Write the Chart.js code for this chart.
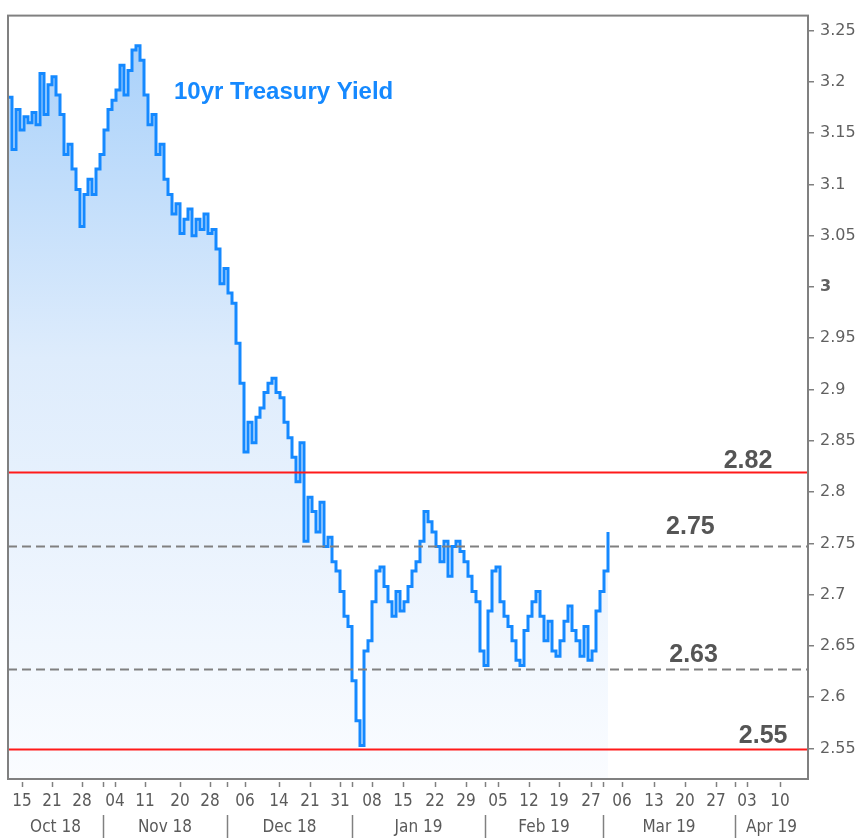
<!DOCTYPE html>
<html>
<head>
<meta charset="utf-8">
<script src="https://cdn.jsdelivr.net/npm/chart.js@4.4.1/dist/chart.umd.min.js"></script>
<style>
  html, body { margin: 0; padding: 0; background: #fff; }
  #chart { display: block; }
</style>
</head>
<body>
<canvas id="chart" width="862" height="838"></canvas>
<script>
// 10yr yield, one reading every 4 bars (bar 0 = first bar shown)
const barStep = 4;
const yields = [
  3.185, 3.134, 3.173, 3.153, 3.166, 3.160, 3.170, 3.158, 3.208, 3.168,
  3.197, 3.205, 3.187, 3.168, 3.129, 3.139, 3.115, 3.095, 3.059, 3.090,
  3.105, 3.090, 3.115, 3.129, 3.153, 3.173, 3.182, 3.192, 3.216, 3.187,
  3.211, 3.231, 3.235, 3.221, 3.187, 3.158, 3.168, 3.129, 3.139, 3.105,
  3.090, 3.071, 3.081, 3.052, 3.066, 3.076, 3.050, 3.066, 3.056, 3.071,
  3.052, 3.056, 3.037, 3.003, 3.018, 2.994, 2.984, 2.945, 2.906, 2.839,
  2.868, 2.848, 2.873, 2.882, 2.897, 2.906, 2.911, 2.897, 2.892, 2.868,
  2.853, 2.834, 2.810, 2.848, 2.752, 2.795, 2.781, 2.761, 2.790, 2.747,
  2.756, 2.732, 2.723, 2.703, 2.679, 2.669, 2.616, 2.577, 2.553, 2.645,
  2.655, 2.693, 2.723, 2.727, 2.708, 2.693, 2.679, 2.703, 2.684, 2.693,
  2.708, 2.723, 2.732, 2.752, 2.781, 2.771, 2.761, 2.747, 2.732, 2.752,
  2.718, 2.747, 2.752, 2.742, 2.732, 2.718, 2.703, 2.693, 2.645, 2.631,
  2.684, 2.723, 2.727, 2.693, 2.679, 2.669, 2.655, 2.636, 2.631, 2.665,
  2.679, 2.693, 2.703, 2.679, 2.655, 2.674, 2.645, 2.640, 2.655, 2.674,
  2.689, 2.665, 2.655, 2.640, 2.669, 2.636, 2.645, 2.684, 2.703, 2.723,
  2.761
];

// x axis: bar index of each weekly tick and its day label
const tickBars = [14, 44, 74, 107, 137, 172, 202, 237, 271, 302, 332, 364, 395,
                  427, 458, 490, 521, 551, 583, 614, 646, 677, 708, 739, 772];
const tickLabels = ['15', '21', '28', '04', '11', '20', '28', '06', '14', '21', '31', '08', '15',
                    '22', '29', '05', '12', '19', '27', '06', '13', '20', '27', '03', '10'];
// first bar of each new month
const monthBars = [95, 219, 344, 477, 595, 727];
const monthLabels = ['Oct 18', 'Nov 18', 'Dec 18', 'Jan 19', 'Feb 19', 'Mar 19', 'Apr 19'];
const barMax = 800;

// y axis
const yTicks = [2.55, 2.6, 2.65, 2.7, 2.75, 2.8, 2.85, 2.9, 2.95, 3, 3.05, 3.1, 3.15, 3.2, 3.25];
const yTickLabels = ['2.55', '2.6', '2.65', '2.7', '2.75', '2.8', '2.85', '2.9', '2.95', '3',
                     '3.05', '3.1', '3.15', '3.2', '3.25'];
const yMin = 2.5203;
const yMax = 3.2645;

// horizontal levels
const redLevels = [2.82, 2.55];
const redLabels = ['2.82', '2.55'];
const dashedLevels = [2.747, 2.628];
const dashedLabels = ['2.75', '2.63'];

const seriesTitle = '10yr Treasury Yield';

const BLUE = '#1589ff';
const AXIS_GRAY = '#808080';
const narrowFont = "'DejaVu Sans Condensed', 'Liberation Sans Narrow', 'DejaVu Sans', sans-serif";

// level lines, their labels, the series title
const overlayPlugin = {
  id: 'overlay',
  afterDatasetsDraw(chart) {
    const { ctx, chartArea: a, scales: { y } } = chart;
    ctx.save();
    ctx.lineWidth = 2;

    ctx.strokeStyle = AXIS_GRAY;
    ctx.setLineDash([9, 5]);
    dashedLevels.forEach(v => {
      const py = Math.round(y.getPixelForValue(v)) + 0.5;
      ctx.beginPath(); ctx.moveTo(a.left, py); ctx.lineTo(a.right, py); ctx.stroke();
    });
    ctx.setLineDash([]);
    ctx.strokeStyle = '#ff1a1a';
    redLevels.forEach(v => {
      const py = Math.round(y.getPixelForValue(v)) + 0.5;
      ctx.beginPath(); ctx.moveTo(a.left, py); ctx.lineTo(a.right, py); ctx.stroke();
    });

    // label placement: x as share of plot width, lift above the line
    const spots = [
      { text: redLabels[0], v: redLevels[0], fx: 0.925, lift: 4 },
      { text: dashedLabels[0], v: dashedLevels[0], fx: 0.853, lift: 12 },
      { text: dashedLabels[1], v: dashedLevels[1], fx: 0.857, lift: 7 },
      { text: redLabels[1], v: redLevels[1], fx: 0.944, lift: 6 }
    ];
    ctx.fillStyle = '#555';
    ctx.font = "bold 25px 'Liberation Sans', Arial, sans-serif";
    ctx.textAlign = 'center';
    ctx.textBaseline = 'alphabetic';
    spots.forEach(s => {
      const px = a.left + s.fx * (a.right - a.left);
      ctx.fillText(s.text, px, y.getPixelForValue(s.v) - s.lift);
    });

    ctx.fillStyle = BLUE;
    ctx.font = "bold 24px 'Liberation Sans', Arial, sans-serif";
    ctx.textAlign = 'left';
    ctx.fillText(seriesTitle, a.left + 166, a.top + 89 - 6);
    ctx.restore();
  },
  afterDraw(chart) {
    const { ctx, chartArea: a, scales: { x } } = chart;
    const h = chart.height;
    ctx.save();
    // frame
    ctx.strokeStyle = AXIS_GRAY;
    ctx.lineWidth = 2;
    ctx.strokeRect(a.left, a.top, a.right - a.left, a.bottom - a.top);

    // short tick marks below the axis, weekly and at month starts
    ctx.lineWidth = 1.5;
    tickBars.concat(monthBars).forEach(b => {
      const px = Math.round(x.getPixelForValue(b)) + 0.5;
      ctx.beginPath(); ctx.moveTo(px, a.bottom + 3); ctx.lineTo(px, a.bottom + 8); ctx.stroke();
    });

    // month separators and names
    monthBars.forEach(b => {
      const px = Math.round(x.getPixelForValue(b)) + 0.5;
      ctx.beginPath(); ctx.moveTo(px, a.bottom + 36); ctx.lineTo(px, h); ctx.stroke();
    });
    const edges = [a.left].concat(monthBars.map(b => x.getPixelForValue(b)), [a.right]);
    ctx.fillStyle = '#5a5a5a';
    ctx.font = '17px ' + narrowFont;
    ctx.textAlign = 'center';
    ctx.textBaseline = 'middle';
    monthLabels.forEach((m, i) => {
      ctx.fillText(m, (edges[i] + edges[i + 1]) / 2, a.bottom + 49);
    });
    ctx.restore();
  }
};

const ctx = document.getElementById('chart').getContext('2d');

new Chart(ctx, {
  type: 'line',
  data: {
    datasets: [{
      data: yields.map((v, i) => ({ x: i * barStep, y: v })),
      borderColor: BLUE,
      borderWidth: 3,
      pointRadius: 0,
      stepped: true,
      fill: 'start',
      backgroundColor: (c) => {
        const area = c.chart.chartArea;
        if (!area) return 'rgba(180,215,250,0.6)';
        const g = c.chart.ctx.createLinearGradient(0, area.top, 0, area.bottom);
        g.addColorStop(0, 'rgb(165,207,250)');
        g.addColorStop(0.45, 'rgb(222,236,252)');
        g.addColorStop(1, 'rgb(250,252,255)');
        return g;
      }
    }]
  },
  options: {
    responsive: false,
    animation: false,
    devicePixelRatio: 1,
    layout: { padding: { left: 8, top: 10, right: 0, bottom: 0 } },
    plugins: {
      legend: { display: false },
      tooltip: { enabled: false }
    },
    scales: {
      x: {
        type: 'linear',
        position: 'bottom',
        min: 0,
        max: barMax,
        afterBuildTicks: s => { s.ticks = tickBars.map(v => ({ value: v })); },
        afterFit: s => { s.height = 59; },
        grid: { display: false, drawTicks: false },
        border: { display: false },
        ticks: {
          autoSkip: false,
          maxRotation: 0,
          padding: 12,
          color: '#5a5a5a',
          font: { family: narrowFont, size: 17 },
          callback: (v, i) => tickLabels[i]
        }
      },
      y: {
        position: 'right',
        min: yMin,
        max: yMax,
        afterBuildTicks: s => { s.ticks = yTicks.map(v => ({ value: v })); },
        afterFit: s => { s.width = 54; },
        grid: { drawOnChartArea: false, drawTicks: true, tickLength: 6, color: AXIS_GRAY, lineWidth: 1.5 },
        border: { display: false },
        ticks: {
          padding: 6,
          color: '#606060',
          font: c => ({
            family: "'DejaVu Sans', sans-serif",
            size: 16,
            weight: c.tick && c.tick.value === 3 ? 'bold' : 'normal'
          }),
          callback: (v, i) => yTickLabels[i]
        }
      }
    }
  },
  plugins: [overlayPlugin]
});
</script>
</body>
</html>
